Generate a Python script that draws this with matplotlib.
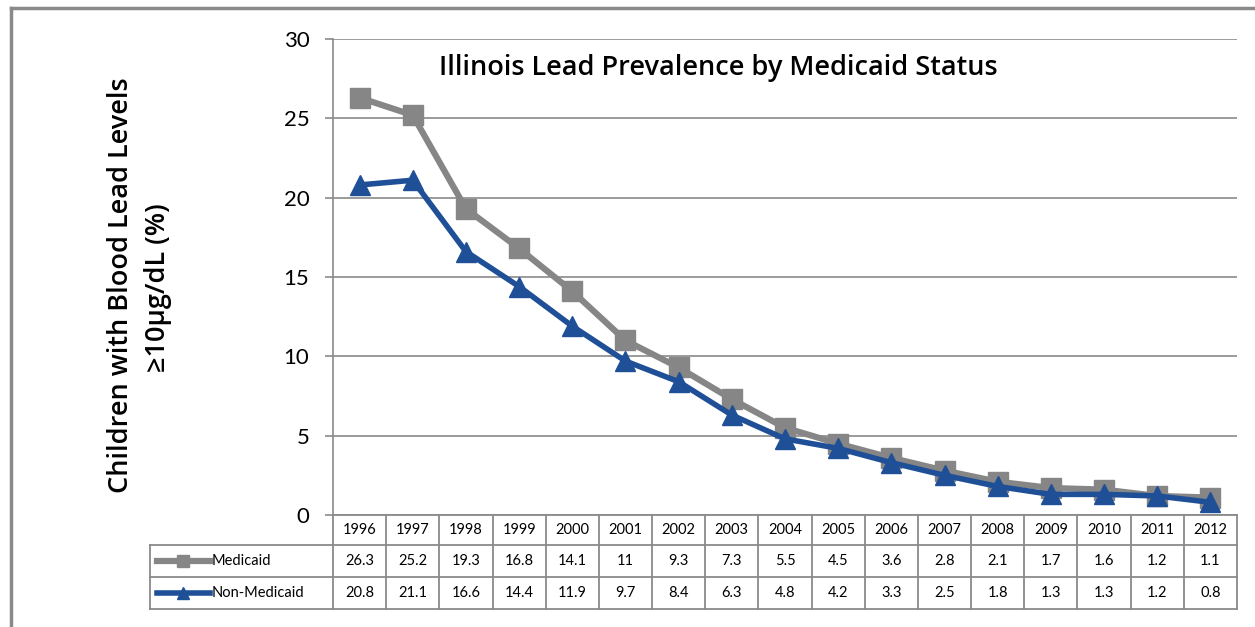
import matplotlib
matplotlib.use("Agg")
import matplotlib.pyplot as plt
from matplotlib.lines import Line2D

years = [1996, 1997, 1998, 1999, 2000, 2001, 2002, 2003, 2004, 2005,
         2006, 2007, 2008, 2009, 2010, 2011, 2012]
medicaid = [26.3, 25.2, 19.3, 16.8, 14.1, 11, 9.3, 7.3, 5.5, 4.5,
            3.6, 2.8, 2.1, 1.7, 1.6, 1.2, 1.1]
non_medicaid = [20.8, 21.1, 16.6, 14.4, 11.9, 9.7, 8.4, 6.3, 4.8, 4.2,
                3.3, 2.5, 1.8, 1.3, 1.3, 1.2, 0.8]
series_names = ["Medicaid", "Non-Medicaid"]
yticks = [0, 5, 10, 15, 20, 25, 30]

GRAY = "#868686"
BLUE = "#1f4f96"
GRID = "#8a8a8a"
FONT = "Lato"
TFONT = "Open Sans"

W, H = 1255, 627
fig = plt.figure(figsize=(W / 100, H / 100), dpi=100)

def fx(px):
    return px / W

def fy(py):
    return 1 - py / H

L, R, T, B = 333, 1237, 39, 515
ax = fig.add_axes([fx(L), fy(B), fx(R) - fx(L), fy(T) - fy(B)])
x = list(range(len(years)))
ax.set_xlim(-0.5, len(years) - 0.5)
ax.set_ylim(0, 30)
ax.set_yticks(yticks)
ax.set_yticklabels([str(v) for v in yticks], fontsize=16, family=FONT)
ax.set_xticks([])
ax.grid(axis="y", color=GRID, linewidth=1.2)
ax.set_axisbelow(True)
for s in ["top", "right", "bottom"]:
    ax.spines[s].set_visible(False)
ax.spines["left"].set_color(GRID)
ax.spines["left"].set_linewidth(1.2)
ax.tick_params(axis="y", length=6, width=1.2, color=GRID, pad=11)

ax.plot(x, medicaid, color=GRAY, lw=4.5, marker="s", ms=15, mfc=GRAY, mec=GRAY, zorder=3)
ax.plot(x, non_medicaid, color=BLUE, lw=4, marker="^", ms=14, mfc=BLUE, mec=BLUE, zorder=4)

fig.text(fx(718), fy(68), "Illinois Lead Prevalence by Medicaid Status",
         ha="center", va="center", fontsize=19.5, fontweight="semibold", family=TFONT)
fig.text(fx(121), fy(285), "Children with Blood Lead Levels",
         rotation=90, ha="center", va="center", fontsize=19.5, fontweight="semibold", family=TFONT)
fig.text(fx(158), fy(288), "\u226510\u03bcg/dL (%)",
         rotation=90, ha="center", va="center", fontsize=19.5, fontweight="semibold", family=TFONT)

# Data table beneath the axes
rows = [515, 545, 577, 609]
tl = 150
col_edges = [L + i * (R - L) / len(years) for i in range(len(years) + 1)]

def hline(y0, xa, xb):
    fig.add_artist(Line2D([fx(xa), fx(xb)], [fy(y0), fy(y0)], color=GRID, lw=1.3))

def vline(xv, ya, yb):
    fig.add_artist(Line2D([fx(xv), fx(xv)], [fy(ya), fy(yb)], color=GRID, lw=1.3))

hline(rows[0], L, R)
for r in rows[1:]:
    hline(r, tl, R)
for i, xe in enumerate(col_edges):
    vline(xe, rows[0], rows[3])
vline(tl, rows[1], rows[3])

for i, yr in enumerate(years):
    cx = (col_edges[i] + col_edges[i + 1]) / 2
    fig.text(fx(cx), fy((rows[0] + rows[1]) / 2), str(yr), ha="center", va="center",
             fontsize=10.5, family=FONT)
    fig.text(fx(cx), fy((rows[1] + rows[2]) / 2), f"{medicaid[i]:g}", ha="center", va="center",
             fontsize=10.5, family=FONT)
    fig.text(fx(cx), fy((rows[2] + rows[3]) / 2), f"{non_medicaid[i]:g}", ha="center", va="center",
             fontsize=10.5, family=FONT)

styles = [(GRAY, "s", 4.5, 8), (BLUE, "^", 4, 8)]
for k, name in enumerate(series_names):
    cy = fy((rows[k + 1] + rows[k + 2]) / 2)
    col, mk, lw, ms = styles[k]
    fig.add_artist(Line2D([fx(157), fx(210)], [cy, cy], color=col, lw=lw))
    fig.add_artist(Line2D([fx(183)], [cy], color=col, marker=mk, ms=ms, mfc=col, mec=col))
    fig.text(fx(212), cy, name, ha="left", va="center", fontsize=10.5, family=FONT)

# outer frame (left and top)
fig.add_artist(Line2D([fx(11), fx(11)], [fy(8), 0], color=GRID, lw=2.5))
fig.add_artist(Line2D([fx(11), 1], [fy(8), fy(8)], color=GRID, lw=2.5))

fig.savefig("out.png", dpi=100)
